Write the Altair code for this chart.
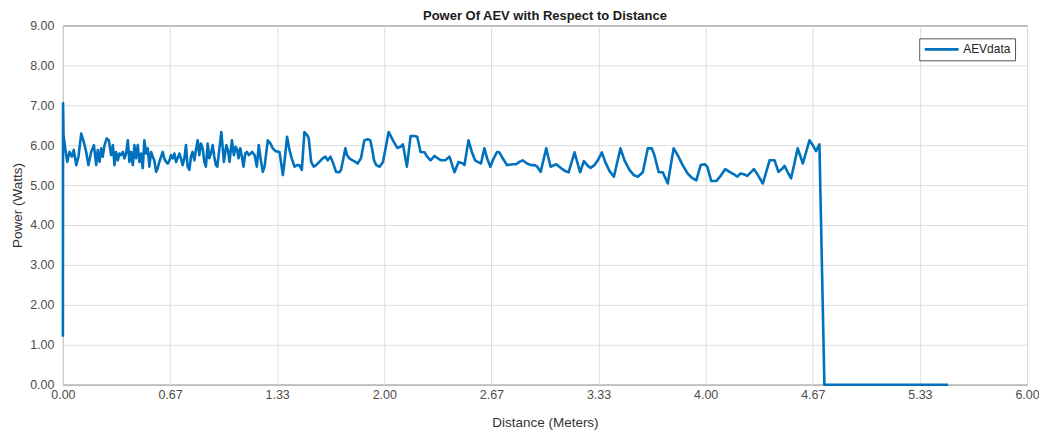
import altair as alt
import pandas as pd

# Distance (m) readings
distance = [
    0.000, 0.001, 0.004, 0.0145, 0.027, 0.041, 0.056, 0.068, 0.083, 0.097, 0.114, 0.130, 0.145, 0.159,
    0.176, 0.193, 0.207, 0.217, 0.228, 0.238, 0.248, 0.259, 0.273, 0.286, 0.300, 0.311, 0.321,
    0.331, 0.342, 0.352, 0.362, 0.373, 0.383, 0.393, 0.404, 0.414, 0.424, 0.435, 0.445, 0.455,
    0.466, 0.476, 0.487, 0.497, 0.507, 0.518, 0.528, 0.538, 0.549, 0.559, 0.569, 0.580, 0.590,
    0.600, 0.611, 0.621, 0.631, 0.642, 0.652, 0.663, 0.673, 0.683, 0.694, 0.704, 0.714, 0.725,
    0.735, 0.745, 0.756, 0.766, 0.776, 0.787, 0.797, 0.807, 0.818, 0.828, 0.839, 0.849, 0.859,
    0.870, 0.880, 0.890, 0.901, 0.911, 0.921, 0.932, 0.942, 0.952,
    0.961, 0.986, 1.002, 1.017, 1.027, 1.037, 1.052, 1.064, 1.075, 1.085, 1.093, 1.104, 1.114,
    1.124, 1.135, 1.145, 1.157, 1.168, 1.178, 1.193, 1.207, 1.219, 1.230, 1.244, 1.255, 1.275,
    1.292, 1.306, 1.323, 1.348, 1.369, 1.379, 1.395, 1.410, 1.424, 1.441, 1.458, 1.472, 1.487,
    1.503, 1.520, 1.530, 1.545, 1.561, 1.576, 1.596, 1.617, 1.634, 1.648, 1.665, 1.679, 1.700,
    1.720, 1.731, 1.758, 1.768, 1.783, 1.803, 1.820, 1.834, 1.855, 1.876, 1.897, 1.913, 1.928,
    1.936, 1.950, 1.971, 1.992, 2.027, 2.054, 2.081, 2.101, 2.116, 2.141, 2.164, 2.188, 2.205,
    2.226, 2.251, 2.267, 2.288, 2.313, 2.333, 2.354, 2.379, 2.406, 2.437, 2.462, 2.489, 2.499,
    2.524, 2.545, 2.565, 2.582, 2.602, 2.623, 2.640, 2.660, 2.681, 2.702, 2.716, 2.737, 2.764,
    2.799, 2.820, 2.841, 2.861, 2.888, 2.913,
    2.936, 2.952, 2.973, 3.008, 3.035, 3.070, 3.101, 3.126, 3.147, 3.184, 3.219, 3.242, 3.267,
    3.284, 3.308, 3.329, 3.354, 3.375, 3.402, 3.429, 3.470, 3.495, 3.526, 3.553, 3.578, 3.609,
    3.640, 3.665, 3.681, 3.708, 3.733, 3.764, 3.801, 3.826, 3.857, 3.888,
    3.915, 3.942, 3.969, 3.994, 4.010, 4.035, 4.066, 4.097, 4.122, 4.149, 4.176, 4.197, 4.217,
    4.238, 4.259, 4.284, 4.300, 4.325, 4.356, 4.398, 4.429, 4.453, 4.474, 4.491, 4.511, 4.532,
    4.573, 4.605, 4.646, 4.667, 4.687, 4.708, 4.739, 5.509,
]

# Power (W) readings
power = [
    1.20, 7.05, 6.25, 5.92, 5.58, 5.83, 5.71, 5.88, 5.50, 5.71, 6.29, 6.08, 5.83, 5.50,
    5.83, 6.00, 5.50, 5.88, 5.58, 5.92, 5.71, 6.00, 6.17, 6.12, 5.75, 6.00, 5.50,
    5.83, 5.62, 5.79, 5.75, 5.83, 5.67, 5.79, 6.12, 5.58, 5.83, 5.50, 6.00, 5.67,
    6.00, 5.58, 5.79, 5.42, 6.12, 5.79, 5.92, 5.46, 5.83, 5.71, 5.62, 5.33, 5.42,
    5.58, 5.71, 5.83, 5.67, 5.58, 5.54, 5.62, 5.75, 5.67, 5.79, 5.58, 5.67, 5.79,
    5.67, 5.50, 5.67, 6.00, 5.46, 5.38, 5.71, 5.83, 5.62, 5.88, 6.12, 5.75, 6.04,
    5.92, 5.58, 5.46, 6.04, 5.67, 5.79, 6.00, 5.71, 5.50,
    5.46, 6.33, 5.58, 6.00, 5.88, 5.58, 6.12, 5.75, 5.96, 5.88, 5.67, 5.92, 5.71,
    5.46, 5.79, 5.83, 5.75, 5.79, 5.83, 5.75, 5.46, 6.00, 5.67, 5.33, 5.46, 6.12,
    6.04, 5.92, 5.85, 5.83, 5.25, 5.58, 6.21, 5.88, 5.67, 5.46, 5.50, 5.50, 5.38,
    6.33, 6.25, 6.17, 5.58, 5.46, 5.50, 5.58, 5.67, 5.71, 5.62, 5.71, 5.58, 5.33,
    5.32, 5.38, 5.92, 5.75, 5.67, 5.62, 5.58, 5.54, 5.67, 6.12, 6.15, 6.12, 5.83,
    5.62, 5.50, 5.46, 5.58, 6.33, 6.12, 5.93, 5.96, 6.02, 5.46, 6.23, 6.23, 6.21,
    5.83, 5.82, 5.71, 5.62, 5.73, 5.67, 5.62, 5.62, 5.71, 5.32, 5.58, 5.54, 5.50,
    6.12, 5.83, 5.62, 5.58, 5.54, 5.92, 5.67, 5.46, 5.67, 5.83, 5.82, 5.67, 5.50,
    5.52, 5.52, 5.58, 5.62, 5.54, 5.50,
    5.50, 5.46, 5.33, 5.92, 5.46, 5.52, 5.42, 5.35, 5.32, 5.82, 5.32, 5.60, 5.48,
    5.43, 5.50, 5.62, 5.82, 5.58, 5.35, 5.21, 5.92, 5.62, 5.38, 5.25, 5.21, 5.32,
    5.92, 5.92, 5.75, 5.32, 5.32, 5.04, 5.92, 5.75, 5.50, 5.29,
    5.18, 5.12, 5.50, 5.52, 5.46, 5.10, 5.10, 5.25, 5.40, 5.33, 5.27, 5.21, 5.29,
    5.27, 5.23, 5.33, 5.40, 5.25, 5.04, 5.62, 5.62, 5.33, 5.40, 5.48, 5.32, 5.17,
    5.92, 5.54, 6.12, 6.00, 5.85, 6.02, 0.00, 0.00,
]

x_ticks = [0, 2 / 3, 4 / 3, 2, 8 / 3, 10 / 3, 4, 14 / 3, 16 / 3, 6]
y_ticks = [0, 1, 2, 3, 4, 5, 6, 7, 8, 9]

df = pd.DataFrame({"Distance": distance, "Power": power})
df["i"] = range(len(df))
df["series"] = "AEVdata"

FONT = "Liberation Sans"
AX = "#4d4d4d"

chart = (
    alt.Chart(df)
    .mark_line(strokeWidth=2.6, strokeJoin="round")
    .encode(
        x=alt.X(
            "Distance:Q",
            scale=alt.Scale(domain=[0, 6], nice=False, zero=False),
            axis=alt.Axis(
                values=x_ticks, format=".2f", title="Distance (Meters)",
                labelFlush=False,
            ),
        ),
        y=alt.Y(
            "Power:Q",
            scale=alt.Scale(domain=[0, 9], nice=False),
            axis=alt.Axis(values=y_ticks, format=".2f", title="Power (Watts)"),
        ),
        order="i:Q",
        color=alt.Color(
            "series:N",
            scale=alt.Scale(range=["#0072BD"]),
            legend=alt.Legend(
                title=None, orient="none", legendX=858, legendY=13,
                symbolType="stroke", symbolSize=1150, symbolStrokeWidth=2.6,
                clipHeight=14,
                strokeColor="#555555", fillColor="white", padding=4,
                labelFont=FONT, labelFontSize=12, labelColor="#222222",
                labelOffset=3,
            ),
        ),
    )
    .properties(
        width=966,
        height=360,
        title=alt.TitleParams(
            "Power Of AEV with Respect to Distance",
            font=FONT, fontSize=13, fontWeight="bold", color="#1a1a1a",
            anchor="middle", offset=-4,
        ),
        autosize=alt.AutoSizeParams(type="none"),
        padding={"left": 55, "top": 17, "right": 12, "bottom": 46},
    )
    .configure_view(stroke="#333333", strokeWidth=1)
    .configure_axis(
        grid=True, gridColor="#dedede", gridWidth=1,
        domain=False, ticks=False,
        labelFont=FONT, labelFontSize=12.5, labelColor=AX,
        titleFont=FONT, titleFontSize=13.5, titleColor="#333333", titleFontWeight="normal",
    )
    .configure_axisX(labelPadding=4, titlePadding=14)
    .configure_axisY(labelPadding=9, titlePadding=5)
)

chart.save("out.html", embed_options={"renderer": "svg", "actions": False})
